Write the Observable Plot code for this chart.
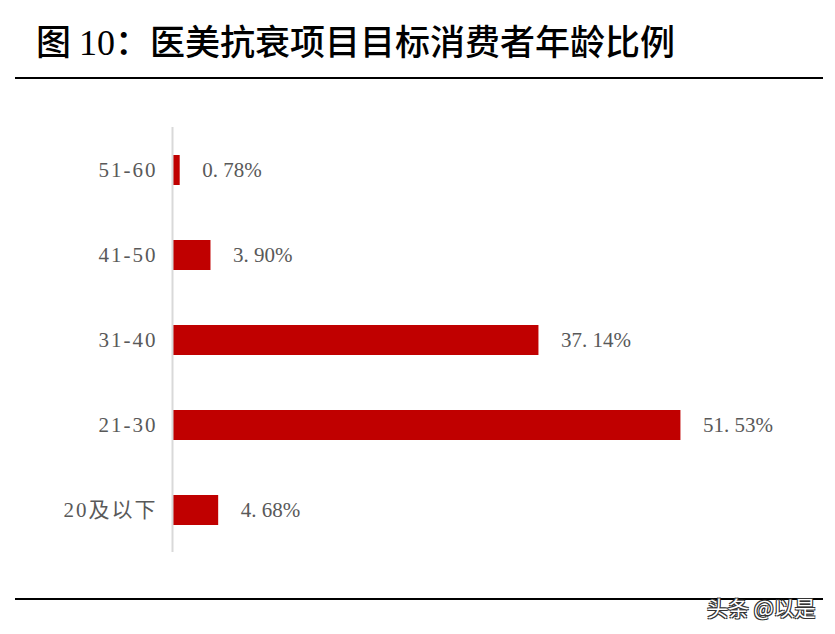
<!DOCTYPE html>
<html>
<head>
<meta charset="utf-8">
<script src="https://cdn.jsdelivr.net/npm/d3@7"></script>
<script src="https://cdn.jsdelivr.net/npm/@observablehq/plot@0.6"></script>
<style>
  body { margin: 0; background: #fff; width: 835px; height: 634px; position: relative; overflow: hidden; }
  #title { position: absolute; left: 36px; top: 14px; font-family: "Noto Sans CJK SC", sans-serif; font-size: 35px; font-weight: 500; color: #000; white-space: nowrap; }
  #title .num { font-family: "Liberation Serif", serif; font-weight: 400; font-size: 36px; }
  .rule { position: absolute; left: 15px; width: 808px; height: 2px; background: #000; }
  #chart { position: absolute; left: 0; top: 100px; }
  #mark { position: absolute; left: 707px; top: 592px; font-family: "Noto Sans CJK SC", sans-serif; font-size: 21px; color: #fff;
    text-shadow: -1px -1px 0 #333, 1px -1px 0 #333, -1px 1px 0 #333, 1px 1px 0 #333; white-space: nowrap; }
</style>
</head>
<body>
<div id="title">图 <span class="num">10</span>：医美抗衰项目目标消费者年龄比例</div>
<div class="rule" style="top:77px"></div>
<div id="chart"></div>
<div class="rule" style="top:598px"></div>
<div id="mark">头条 @以是</div>
<script>
const ages = ["51-60", "41-50", "31-40", "21-30", "20及以下"];
const shares = [0.78, 3.90, 37.14, 51.53, 4.68];

const data = ages.map((age, i) => ({age, value: shares[i]}));
const fmt = v => v.toFixed(2).replace(".", ". ") + "%";

const chart = Plot.plot({
  width: 835,
  height: 480,
  marginLeft: 172,
  marginRight: 71,
  marginTop: 27,
  marginBottom: 28,
  style: {fontFamily: "'Liberation Serif', 'Noto Sans CJK SC', serif", fontSize: "21px", color: "#595959", background: "transparent"},
  x: {domain: [0, 60], axis: null},
  y: {domain: ages, paddingInner: 0.65, paddingOuter: 0.325, label: null},
  marks: [
    Plot.barX(data, {x: "value", y: "age", fill: "#C00000", insetLeft: 1}),
    Plot.ruleX([0], {stroke: "#d9d9d9", strokeWidth: 2}),
    Plot.text(data, {x: "value", y: "age", text: d => fmt(d.value), dx: 22, textAnchor: "start", fill: "#595959", fontSize: 21}),
    Plot.axisY({tickSize: 0, tickPadding: 15, fontSize: 21, label: null})
  ]
});
chart.querySelectorAll("[aria-label='y-axis tick label'] text").forEach(t => t.setAttribute("letter-spacing", "2"));
document.getElementById("chart").appendChild(chart);
</script>
</body>
</html>
